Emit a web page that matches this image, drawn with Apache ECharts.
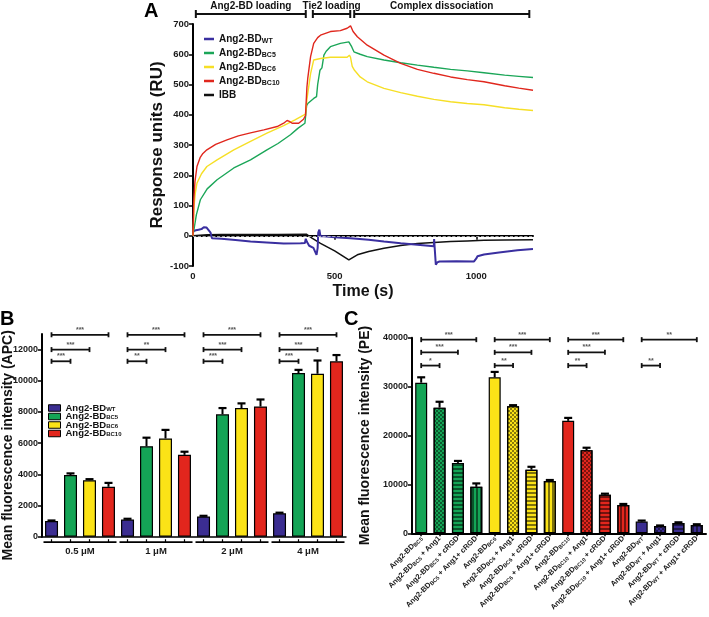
<!DOCTYPE html>
<html><head><meta charset="utf-8">
<script src="https://cdn.jsdelivr.net/npm/echarts@6/dist/echarts.min.js"></script>
<style>html,body{margin:0;padding:0;background:#fff}#c{width:709px;height:617px}</style>
</head><body><div id="c"></div>
<script>
const FONT = 'Liberation Sans, Arial, sans-serif';

// ---------- Panel A : SPR sensorgram ----------
const curveWT = [[0,15],[10,18],[20,20],[30,22],[38,28],[48,27],[55,25],[62,10],[67,-8],[100,-10],[150,-14],[203,-19],[260,-22],[320,-26],[380,-25],[395,-24],[398,-10],[402,-20],[410,-33],[425,-40],[432,-46],[436,-63],[440,-40],[442,10],[446,20],[450,-2],[462,-2],[500,-5],[556,-8],[620,-13],[674,-19],[733,-25],[792,-30],[850,-35],[851,-11],[853,-40],[857,-96],[862,-88],[870,-85],[930,-84],[992,-85],[1000,-75],[1004,-68],[1027,-62],[1080,-55],[1145,-48],[1200,-44]];
const curveBC5 = [[0,0],[5,30],[12,70],[26,119],[50,155],[85,185],[144,224],[203,251],[261,284],[300,305],[344,334],[370,355],[395,372],[400,376],[401,430],[405,437],[426,454],[436,460],[440,500],[448,547],[455,555],[462,597],[470,610],[485,625],[520,636],[550,641],[556,640],[560,625],[568,608],[590,600],[615,592],[674,581],[733,572],[792,564],[850,557],[909,550],[968,545],[1027,539],[1100,531],[1150,527],[1200,523]];
const curveBC6 = [[0,0],[4,100],[8,140],[14,174],[30,205],[49,229],[85,251],[144,284],[203,312],[261,339],[320,364],[360,383],[397,402],[400,405],[402,450],[405,470],[415,536],[426,581],[450,586],[485,590],[544,590],[552,597],[556,590],[562,560],[570,547],[590,525],[615,509],[674,487],[733,473],[792,461],[850,451],[909,443],[968,437],[1027,433],[1100,423],[1150,418],[1200,414]];
const curveBC10 = [[0,0],[3,120],[7,180],[14,229],[25,258],[35,272],[49,284],[80,302],[120,317],[160,330],[203,340],[250,350],[297,361],[320,372],[332,381],[340,378],[350,372],[373,372],[390,385],[397,397],[400,400],[402,490],[405,520],[415,592],[426,636],[440,655],[450,663],[485,675],[520,678],[544,686],[556,694],[565,675],[580,658],[615,630],[674,597],[733,570],[792,550],[850,537],[909,525],[968,516],[1027,509],[1100,496],[1150,488],[1200,481]];
const curveIBB = [[0,0],[50,3],[100,4],[200,4],[300,4],[400,5],[405,5],[420,-8],[450,-25],[500,-50],[550,-80],[556,-77],[580,-63],[620,-52],[674,-41],[733,-32],[792,-26],[850,-22],[909,-19],[968,-17],[1027,-15],[1100,-14],[1200,-13]];
const phaseRanges = [[10,398],[423,555],[569,1187]];
const phaseLabels = ['Ang2-BD loading','Tie2 loading','Complex dissociation'];
const timeTicks = [0,500,1000];

// ---------- Panel B : binding vs concentration ----------
const concLabels = ['0.5 μM','1 μM','2 μM','4 μM'];
const bWT   = [1000,1100,1300,1500];
const bWTErr = [40,50,40,40];
const bBC5  = [3950,5800,7850,10500];
const bBC5Err = [110,550,400,200];
const bBC6  = [3620,6300,8250,10450];
const bBC6Err = [70,550,300,850];
const bBC10 = [3200,5250,8350,11250];
const bBC10Err = [250,200,450,400];
const bSigTop = ['***','***','***','***'];
const bSigMid = ['***','**','***','***'];
const bSigLow = ['***','**','***','***'];
const bSigLevels = [12950,12000,11250];
const bSigTargets = [3,2,1];
const bYTicks = [0,2000,4000,6000,8000,10000,12000];

// ---------- Panel C : competition ----------
const cLabels = [
 '{m|Ang2-BD}{s|BC5}','{m|Ang2-BD}{s|BC5}{m| + Ang1}','{m|Ang2-BD}{s|BC5}{m| + cRGD}','{m|Ang2-BD}{s|BC5}{m| + Ang1+ cRGD}',
 '{m|Ang2-BD}{s|BC6}','{m|Ang2-BD}{s|BC6}{m| + Ang1}','{m|Ang2-BD}{s|BC6}{m| + cRGD}','{m|Ang2-BD}{s|BC6}{m| + Ang1+ cRGD}',
 '{m|Ang2-BD}{s|BC10}','{m|Ang2-BD}{s|BC10}{m| + Ang1}','{m|Ang2-BD}{s|BC10}{m| + cRGD}','{m|Ang2-BD}{s|BC10}{m| + Ang1+ cRGD}',
 '{m|Ang2-BD}{s|WT}','{m|Ang2-BD}{s|WT}{m| + Ang1}','{m|Ang2-BD}{s|WT}{m| + cRGD}','{m|Ang2-BD}{s|WT}{m| + Ang1+ cRGD}'
];
const cValues = [30800,25700,14400,9500,31900,26000,13000,10700,23000,17000,7900,5800,2400,1500,2100,1700];
const cErrors = [1100,1200,400,700,1100,200,600,200,600,500,200,200,200,100,150,150];
const cGroup  = [0,0,0,0,1,1,1,1,2,2,2,2,3,3,3,3];
const cPattern = [0,1,2,3,0,1,2,3,0,1,2,3,0,1,2,3];
const cSig = [[0,3,0,'***'],[0,2,1,'***'],[0,1,2,'*'],[4,7,0,'***'],[4,6,1,'***'],[4,5,2,'**'],[8,11,0,'***'],[8,10,1,'***'],[8,9,2,'**'],[12,15,0,'**'],[12,13,2,'**']];
const cSigLevels = [39600,37000,34300];

// ---------- styling ----------
const COL_A = {WT:'#3a2fa0', BC5:'#1ba658', BC6:'#f6df26', BC10:'#e0271d', IBB:'#111'};
const GROUP_COL = ['#14a456','#fbe317','#e2261d','#3b2d91'];
const DECALS = [
  null,
  {symbol:'rect', symbolSize:1, dashArrayX:[[2,2],[0,2,2,0]], dashArrayY:[2,0], color:'rgba(0,0,0,0.45)'},
  {symbol:'rect', symbolSize:1, dashArrayX:[1,0], dashArrayY:[1.2,1.6], color:'rgba(0,0,0,0.5)'},
  {symbol:'rect', symbolSize:1, dashArrayX:[1.2,1.6], dashArrayY:[1,0], color:'rgba(0,0,0,0.5)'}
];
const plainNum = v => String(v);
const tickLbl = {fontFamily:FONT, fontWeight:'bold', fontSize:9.5, color:'#1a1a1a', formatter:plainNum};
const axLine = {show:true, lineStyle:{color:'#000', width:2}};
const axTick = {show:true, length:4, lineStyle:{color:'#000', width:1.5}};
const B_STEP = 19;

function bracket(x1, x2, y, label, fs, col, cap) {
  return {type:'group', children:[
    {type:'line', shape:{x1:x1, y1:y, x2:x2, y2:y}, style:{stroke:'#111', lineWidth:1.8}},
    {type:'line', shape:{x1:x1, y1:y-cap, x2:x1, y2:y+cap}, style:{stroke:'#111', lineWidth:1.8}},
    {type:'line', shape:{x1:x2, y1:y-cap, x2:x2, y2:y+cap}, style:{stroke:'#111', lineWidth:1.8}},
    {type:'text', style:{text:label, x:(x1+x2)/2, y:y-1.5, align:'center', verticalAlign:'bottom', fontSize:fs, fontWeight:'bold', fontFamily:FONT, fill:col}}
  ]};
}
function errBar(x, y0, y1, hw) {
  return {type:'group', children:[
    {type:'line', shape:{x1:x, y1:y0, x2:x, y2:y1}, style:{stroke:'#000', lineWidth:2}},
    {type:'line', shape:{x1:x-hw, y1:y1, x2:x+hw, y2:y1}, style:{stroke:'#000', lineWidth:2.2}}
  ]};
}

const legendTextA = {WT:'{m|Ang2-BD}{s|WT}', BC5:'{m|Ang2-BD}{s|BC5}', BC6:'{m|Ang2-BD}{s|BC6}', BC10:'{m|Ang2-BD}{s|BC10}', IBB:'{m|IBB}'};
const legendTextB = {bWT:'{m|Ang2-BD}{s|WT}', bBC5:'{m|Ang2-BD}{s|BC5}', bBC6:'{m|Ang2-BD}{s|BC6}', bBC10:'{m|Ang2-BD}{s|BC10}'};

const lineSeries = (name, data, w) => ({
  name, type:'line', xAxisIndex:0, yAxisIndex:0, data, showSymbol:false, symbol:'none',
  lineStyle:{color:COL_A[name], width:w}, itemStyle:{color:COL_A[name]}, animation:false
});

const bSeriesDefs = [['bWT',bWT,bWTErr,GROUP_COL[3]],['bBC5',bBC5,bBC5Err,GROUP_COL[0]],['bBC6',bBC6,bBC6Err,GROUP_COL[1]],['bBC10',bBC10,bBC10Err,GROUP_COL[2]]];
const bErrData = [];
bSeriesDefs.forEach((d, j) => d[1].forEach((v, i) => bErrData.push([i, v, j, d[2][i]])));
const bSigData = [];
concLabels.forEach((_, i) => {
  [bSigTop, bSigMid, bSigLow].forEach((arr, k) => bSigData.push([i, bSigLevels[k], bSigTargets[k], k, arr[i]]));
});

const option = {
  animation:false,
  backgroundColor:'#fff',
  aria:{enabled:false},
  graphic:[
    {type:'text', left:144, top:1, style:{text:'A', fontSize:20, fontWeight:'bold', fontFamily:FONT, fill:'#000'}},
    {type:'text', left:0, top:309, style:{text:'B', fontSize:20, fontWeight:'bold', fontFamily:FONT, fill:'#000'}},
    {type:'text', left:344, top:309, style:{text:'C', fontSize:20, fontWeight:'bold', fontFamily:FONT, fill:'#000'}}
  ],
  legend:[
    {orient:'vertical', left:199, top:29, itemWidth:10, itemHeight:2.5, itemGap:3, icon:'rect',
     data:['WT','BC5','BC6','BC10','IBB'], formatter:n => legendTextA[n], selectedMode:false,
     textStyle:{rich:{m:{fontSize:10, fontWeight:'bold', fontFamily:FONT, color:'#111', lineHeight:12},
                      s:{fontSize:7, fontWeight:'bold', fontFamily:FONT, color:'#111', lineHeight:7, verticalAlign:'bottom'}}}},
    {orient:'vertical', left:43, top:398, itemWidth:12, itemHeight:6.5, itemGap:-1.5, icon:'rect',
     data:['bWT','bBC5','bBC6','bBC10'], formatter:n => legendTextB[n], selectedMode:false,
     itemStyle:{borderColor:'#000', borderWidth:1},
     textStyle:{rich:{m:{fontSize:9.5, fontWeight:'bold', fontFamily:FONT, color:'#111', lineHeight:8.5},
                      s:{fontSize:6, fontWeight:'bold', fontFamily:FONT, color:'#111', lineHeight:6, verticalAlign:'bottom'}}}}
  ],
  grid:[
    {left:193, top:24, width:340, height:242, outerBoundsMode:'none'},
    {left:42, top:334, width:304, height:202.7, outerBoundsMode:'none'},
    {left:412, top:337.7, width:294, height:195.6, outerBoundsMode:'none'}
  ],
  xAxis:[
    {gridIndex:0, type:'value', min:0, max:1200, interval:500, splitLine:{show:false}, axisLine:axLine,
     axisTick:Object.assign({}, axTick, {customValues:timeTicks}), axisLabel:Object.assign({}, tickLbl, {margin:5, customValues:timeTicks}),
     name:'Time (s)', nameLocation:'middle', nameGap:18, nameMoveOverlap:false,
     nameTextStyle:{fontFamily:FONT, fontWeight:'bold', fontSize:16, color:'#111'}},
    {gridIndex:1, type:'category', data:concLabels, axisLine:{show:true, lineStyle:{color:'#000', width:1.5}}, axisTick:{show:false},
     axisLabel:{fontFamily:FONT, fontWeight:'bold', fontSize:9.5, color:'#1a1a1a', margin:10}},
    {gridIndex:2, type:'category', data:cLabels, axisLine:axLine,
     axisTick:{show:true, alignWithLabel:true, length:3, lineStyle:{color:'#000', width:1.5}},
     axisLabel:{rotate:45, margin:4, interval:0, color:'#1a1a1a',
       rich:{m:{fontSize:7.5, fontWeight:'bold', fontFamily:FONT, color:'#1a1a1a', lineHeight:9},
             s:{fontSize:5.5, fontWeight:'bold', fontFamily:FONT, color:'#1a1a1a', lineHeight:6, verticalAlign:'bottom'}}}}
  ],
  yAxis:[
    {gridIndex:0, type:'value', min:-100, max:700, interval:100, splitLine:{show:false}, axisLine:axLine, axisTick:axTick,
     axisLabel:Object.assign({}, tickLbl, {margin:4}),
     name:'Response units (RU)', nameLocation:'middle', nameGap:27, nameMoveOverlap:false,
     nameTextStyle:{fontFamily:FONT, fontWeight:'bold', fontSize:17, color:'#111'}},
    {gridIndex:1, type:'value', min:0, max:13000, interval:2000, splitLine:{show:false}, axisLine:axLine,
     axisTick:Object.assign({}, axTick, {customValues:bYTicks}), axisLabel:Object.assign({}, tickLbl, {fontSize:9, margin:4, customValues:bYTicks}),
     name:'Mean fluorescence intensity (APC)', nameLocation:'middle', nameGap:27, nameMoveOverlap:false,
     nameTextStyle:{fontFamily:FONT, fontWeight:'bold', fontSize:14, color:'#111', padding:[0,20,0,0]}},
    {gridIndex:2, type:'value', min:0, max:40000, interval:10000, splitLine:{show:false}, axisLine:axLine, axisTick:axTick,
     axisLabel:Object.assign({}, tickLbl, {fontSize:9, margin:4}),
     name:'Mean fluorescence intensity (PE)', nameLocation:'middle', nameGap:40, nameMoveOverlap:false,
     nameTextStyle:{fontFamily:FONT, fontWeight:'bold', fontSize:14, color:'#111'}}
  ],
  series:[
    Object.assign(lineSeries('IBB', curveIBB, 1.5), {
      markLine:{silent:true, symbol:['none','none'], label:{show:false}, data:[{yAxis:0}],
                lineStyle:{color:'#c8c8c8', type:'dashed', width:0.8}}}),
    lineSeries('WT', curveWT, 2),
    lineSeries('BC5', curveBC5, 1.4),
    lineSeries('BC6', curveBC6, 1.4),
    lineSeries('BC10', curveBC10, 1.4),
    {type:'custom', xAxisIndex:0, yAxisIndex:0, clip:false, silent:true, z:5,
     data:phaseRanges.map((r, i) => [r[0], r[1], i]),
     encode:{x:[0,1]},
     renderItem:(p, api) => {
       const a = api.coord([api.value(0), 700]);
       const b = api.coord([api.value(1), 700]);
       const y = a[1] - 10;
       const g = bracket(a[0], b[0], y, phaseLabels[api.value(2)], 10, '#111', 4);
       g.children[3].style.y = y - 3;
       g.children.forEach(c => { if (c.type === 'line') c.style.lineWidth = 2; });
       return g;
     }},
    ...bSeriesDefs.map(d => ({
      name:d[0], type:'bar', xAxisIndex:1, yAxisIndex:1, data:d[1], barWidth:13, barGap:'46%',
      itemStyle:{color:d[3], borderColor:'#000', borderWidth:1.2}
    })),
    {type:'custom', xAxisIndex:1, yAxisIndex:1, clip:false, silent:true, z:4,
     data:bErrData, encode:{x:0, y:1},
     renderItem:(p, api) => {
       const i = api.value(0), v = api.value(1), j = api.value(2), e = api.value(3);
       const p0 = api.coord([i, v]), p1 = api.coord([i, v + e]);
       const x = p0[0] + (j - 1.5) * B_STEP;
       return errBar(x, p0[1], p1[1], 4);
     }},
    {type:'custom', xAxisIndex:1, yAxisIndex:1, clip:false, silent:true, z:4,
     data:bSigData, encode:{x:0, y:1},
     renderItem:(p, api) => {
       const i = api.value(0), lv = api.value(1), t = api.value(2);
       const c = api.coord([i, lv]);
       return bracket(c[0] - 1.5 * B_STEP, c[0] + (t - 1.5) * B_STEP, c[1], bSigData[p.dataIndex][4], 7, '#555', 2.5);
     }},
    {type:'custom', xAxisIndex:1, yAxisIndex:1, clip:false, silent:true, z:4,
     data:concLabels.map((_, i) => [i, 0]), encode:{x:0, y:1},
     renderItem:(p, api) => {
       const c = api.coord([api.value(0), 0]);
       const w = api.size([1, 0])[0];
       const y = c[1] + 5.5;
       const ch = [{type:'line', shape:{x1:c[0] - w/2 + 1.5, y1:y, x2:c[0] + w/2 - 1.5, y2:y}, style:{stroke:'#000', lineWidth:1.8}}];
       for (let j = 0; j < 4; j++) {
         const x = c[0] + (j - 1.5) * B_STEP;
         ch.push({type:'line', shape:{x1:x, y1:y, x2:x, y2:y - 3}, style:{stroke:'#000', lineWidth:1.2}});
       }
       return {type:'group', children:ch};
     }},
    {type:'bar', xAxisIndex:2, yAxisIndex:2, barWidth:12,
     data:cValues.map((v, i) => ({value:v, itemStyle:Object.assign(
       {color:GROUP_COL[cGroup[i]], borderColor:'#000', borderWidth:1.2},
       DECALS[cPattern[i]] ? {decal:DECALS[cPattern[i]]} : {})}))},
    {type:'custom', xAxisIndex:2, yAxisIndex:2, clip:false, silent:true, z:4,
     data:cValues.map((v, i) => [i, v, cErrors[i]]), encode:{x:0, y:1},
     renderItem:(p, api) => {
       const i = api.value(0), v = api.value(1), e = api.value(2);
       const p0 = api.coord([i, v]), p1 = api.coord([i, v + e]);
       return errBar(p0[0], p0[1], p1[1], 4);
     }},
    {type:'custom', xAxisIndex:2, yAxisIndex:2, clip:false, silent:true, z:4,
     data:cSig.map(s => [s[0], cSigLevels[s[2]], s[1]]), encode:{x:0, y:1},
     renderItem:(p, api) => {
       const a = api.coord([api.value(0), api.value(1)]);
       const b = api.coord([api.value(2), api.value(1)]);
       return bracket(a[0], b[0], a[1], cSig[p.dataIndex][3], 7, '#555', 2.5);
     }}
  ]
};
const chart = echarts.init(document.getElementById('c'), null, {renderer:'canvas'});
chart.setOption(option);
</script></body></html>
